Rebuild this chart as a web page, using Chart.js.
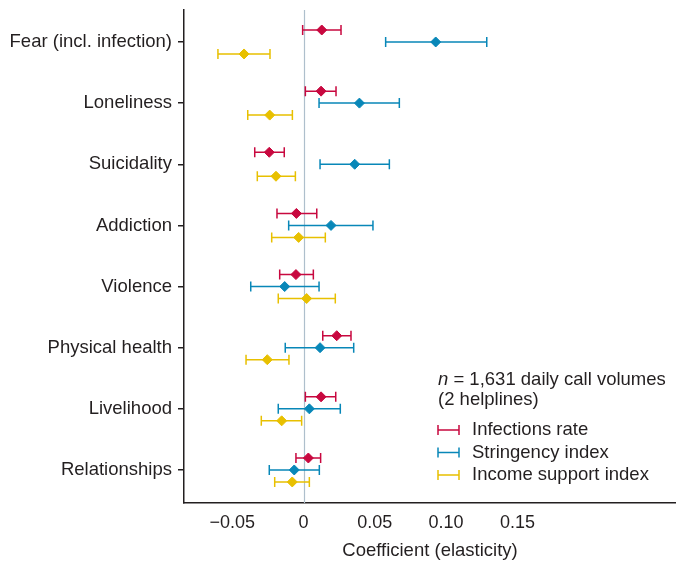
<!DOCTYPE html>
<html>
<head>
<meta charset="utf-8">
<script src="https://cdn.jsdelivr.net/npm/chart.js@4"></script>
<style>
  body { margin: 0; background: #fff; }
  #wrap { width: 676px; height: 562px; position: relative; }
</style>
</head>
<body>
<div id="wrap"><canvas id="graph"></canvas></div>
<script>
let categories = ["Fear (incl. infection)", "Loneliness", "Suicidality", "Addiction", "Violence", "Physical health", "Livelihood", "Relationships"]

let infections     = [0.0128, 0.0123, -0.0240, -0.0050, -0.0053, 0.0233, 0.0123, 0.0034]
let infectionsLow  = [-0.0006, 0.0013, -0.0342, -0.0186, -0.0167, 0.0135, 0.0013, -0.0053]
let infectionsHigh = [0.0263, 0.0228, -0.0135, 0.0093, 0.0069, 0.0333, 0.0226, 0.0120]

let stringency     = [0.0927, 0.0392, 0.0359, 0.0193, -0.0132, 0.0116, 0.0041, -0.0065]
let stringencyLow  = [0.0576, 0.0109, 0.0116, -0.0104, -0.0370, -0.0128, -0.0177, -0.0240]
let stringencyHigh = [0.1285, 0.0672, 0.0602, 0.0487, 0.0109, 0.0352, 0.0258, 0.0111]

let income     = [-0.0417, -0.0237, -0.0193, -0.0034, 0.0022, -0.0254, -0.0153, -0.0079]
let incomeLow  = [-0.0600, -0.0391, -0.0324, -0.0223, -0.0177, -0.0403, -0.0296, -0.0202]
let incomeHigh = [-0.0235, -0.0078, -0.0057, 0.0153, 0.0223, -0.0102, -0.0013, 0.0041]

let xTicks = [-0.05, 0, 0.05, 0.10, 0.15]
let xTickLabels = ["\u22120.05", "0", "0.05", "0.10", "0.15"]

const font = "'Liberation Sans', Arial, sans-serif"
const textColor = "#231f20"
Chart.defaults.font.family = font
Chart.defaults.color = textColor

const rowShift = 0.196

function series(label, values, low, high, color, shift) {
  return {
    label: label,
    data: values.map((v, i) => ({ x: v, y: i + shift, lo: low[i], hi: high[i] })),
    backgroundColor: color,
    borderColor: color,
    pointStyle: "rectRot",
    pointRadius: 5,
    pointHoverRadius: 5,
    showLine: false
  }
}

const errorBars = {
  id: "errorBars",
  beforeDatasetsDraw(chart) {
    const ctx = chart.ctx
    const xs = chart.scales.x, ys = chart.scales.y
    const area = chart.chartArea
    // zero line
    ctx.save()
    ctx.strokeStyle = "#aebfcc"
    ctx.lineWidth = 1.2
    ctx.beginPath()
    ctx.moveTo(Math.round(xs.getPixelForValue(0)) + 0.5, area.top)
    ctx.lineTo(Math.round(xs.getPixelForValue(0)) + 0.5, area.bottom)
    ctx.stroke()
    chart.data.datasets.forEach(ds => {
      ctx.strokeStyle = ds.borderColor
      ctx.lineWidth = 1.5
      ds.data.forEach(p => {
        const y = ys.getPixelForValue(p.y)
        const x1 = xs.getPixelForValue(p.lo), x2 = xs.getPixelForValue(p.hi)
        ctx.beginPath()
        ctx.moveTo(x1, y); ctx.lineTo(x2, y)
        ctx.moveTo(x1, y - 5); ctx.lineTo(x1, y + 5)
        ctx.moveTo(x2, y - 5); ctx.lineTo(x2, y + 5)
        ctx.stroke()
      })
    })
    ctx.restore()
  },
  afterDraw(chart) {
    const ctx = chart.ctx
    ctx.save()
    ctx.fillStyle = textColor
    ctx.font = "italic 18.5px " + font
    ctx.textBaseline = "middle"
    ctx.fillText("n", 438, 380)
    let w = ctx.measureText("n").width
    ctx.font = "18.5px " + font
    ctx.fillText(" = 1,631 daily call volumes", 438 + w, 380)
    ctx.fillText("(2 helplines)", 438, 400)
    chart.data.datasets.forEach((ds, i) => {
      const y = 430 + i * 22.5
      ctx.strokeStyle = ds.borderColor
      ctx.lineWidth = 1.5
      ctx.beginPath()
      ctx.moveTo(438, y); ctx.lineTo(459, y)
      ctx.moveTo(438, y - 5); ctx.lineTo(438, y + 5)
      ctx.moveTo(459, y - 5); ctx.lineTo(459, y + 5)
      ctx.stroke()
      ctx.fillStyle = textColor
      ctx.fillText(ds.label, 472, y)
    })
    ctx.restore()
  }
}

new Chart(document.getElementById("graph"), {
  type: "scatter",
  data: {
    datasets: [
      series("Infections rate", infections, infectionsLow, infectionsHigh, "#c8083f", -rowShift),
      series("Stringency index", stringency, stringencyLow, stringencyHigh, "#0887b8", 0),
      series("Income support index", income, incomeLow, incomeHigh, "#e8c000", rowShift)
    ]
  },
  options: {
    responsive: true,
    maintainAspectRatio: false,
    animation: false,
    layout: { autoPadding: false, padding: { top: 10, right: 0, left: 0, bottom: 0 } },
    plugins: { legend: { display: false }, tooltip: { enabled: false } },
    scales: {
      x: {
        type: "linear",
        min: -0.0838,
        max: 0.2612,
        afterBuildTicks: s => { s.ticks = xTicks.map(v => ({ value: v })) },
        afterFit: s => { s.height = 59; s.paddingLeft = 0; s.paddingRight = 0 },
        grid: { display: false, drawTicks: false },
        border: { color: "#231f20", width: 1.5 },
        ticks: {
          padding: 9,
          font: { size: 18 },
          color: textColor,
          callback: (v, i) => xTickLabels[i]
        },
        title: {
          display: true,
          text: "Coefficient (elasticity)",
          font: { size: 18.5 },
          color: textColor,
          padding: { top: 12, bottom: 0 }
        }
      },
      y: {
        type: "linear",
        reverse: true,
        min: -0.523,
        max: 7.54,
        afterBuildTicks: s => { s.ticks = categories.map((c, i) => ({ value: i })) },
        afterFit: s => { s.width = 184; s.paddingTop = 0; s.paddingBottom = 0 },
        grid: { drawOnChartArea: false, drawTicks: true, tickLength: 6, color: "#231f20", lineWidth: 1.5 },
        border: { color: "#231f20", width: 1.5 },
        ticks: {
          padding: 6,
          font: { size: 18.5 },
          color: textColor,
          callback: v => categories[v]
        }
      }
    }
  },
  plugins: [errorBars]
})
</script>
</body>
</html>
